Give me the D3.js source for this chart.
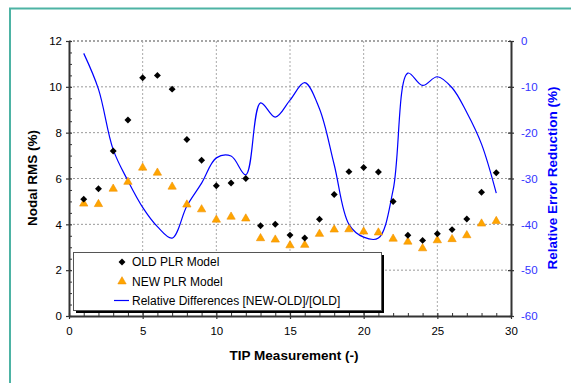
<!DOCTYPE html>
<html>
<head>
<meta charset="utf-8">
<script src="https://cdn.jsdelivr.net/npm/d3@7"></script>
<style>
  body { margin: 0; background: #fff; }
  svg { display: block; font-family: "Liberation Sans", Arial, sans-serif; }
</style>
</head>
<body>
<div class="chart"></div>
<script>
// TIP measurement index
const tips = [1, 2, 3, 4, 5, 6, 7, 8, 9, 10, 11, 12, 13, 14, 15, 16, 17, 18, 19, 20, 21, 22, 23, 24, 25, 26, 27, 28, 29];
// nodal RMS (%) of the old model
const oldPlr = [5.1, 5.55, 7.2, 8.55, 10.4, 10.5, 9.9, 7.7, 6.8, 5.68, 5.8, 6.0, 3.94, 4.0, 3.53, 3.4, 4.22, 5.3, 6.3, 6.48, 6.28, 5.0, 3.52, 3.3, 3.59, 3.77, 4.23, 5.4, 6.25];
// nodal RMS (%) of the new model
const newPlr = [4.9, 4.88, 5.55, 5.85, 6.47, 6.25, 5.64, 4.86, 4.65, 4.2, 4.33, 4.25, 3.39, 3.33, 3.08, 3.1, 3.58, 3.77, 3.78, 3.68, 3.64, 3.37, 3.24, 2.95, 3.3, 3.35, 3.52, 4.03, 4.14];
// relative difference [NEW-OLD]/[OLD] (%)
const relDiff = [-2.7, -10.5, -23.7, -30.5, -36.3, -40.5, -43.0, -36.0, -31.0, -25.5, -25.1, -29.2, -13.5, -16.6, -12.9, -9.1, -14.8, -27.0, -40.0, -42.8, -43.0, -32.5, -7.0, -9.7, -7.8, -10.2, -15.6, -22.5, -33.2];

const xTicks = [0, 5, 10, 15, 20, 25, 30];
const yTicks = [0, 2, 4, 6, 8, 10, 12];
const y2Ticks = [0, -10, -20, -30, -40, -50, -60];
const legendLabels = ['OLD PLR Model', 'NEW PLR Model', 'Relative Differences [NEW-OLD]/[OLD]'];

const W = 571, H = 383;
const margin = {left: 69, right: 60, top: 41, bottom: 67};
const iw = W - margin.left - margin.right;
const ih = H - margin.top - margin.bottom;

const axisColor = '#333';
const blue = '#0000ff';
const orange = '#ffa500';
const plain = d => String(d);   // keep ascii hyphen for negatives

const svg = d3.select('.chart').append('svg')
  .attr('width', W).attr('height', H);

svg.append('rect').attr('width', W).attr('height', H).attr('fill', '#fff');
// outer frame (runs off the bottom/right edge)
svg.append('rect')
  .attr('x', 10).attr('y', 8.5).attr('width', W + 20).attr('height', H + 20)
  .attr('fill', 'none').attr('stroke', '#4db3a4').attr('stroke-width', 2);

const g = svg.append('g').attr('transform', 'translate(' + margin.left + ',' + margin.top + ')');

const x = d3.scaleLinear().domain([0, 30]).range([0, iw]);
const y = d3.scaleLinear().domain([0, 12]).range([ih, 0]);
const y2 = d3.scaleLinear().domain([-60, 0]).range([ih, 0]);

// grid lines
g.append('g').selectAll('line').data(yTicks.filter(d => d > 0)).enter().append('line')
  .attr('x1', 0).attr('x2', iw).attr('y1', d => y(d)).attr('y2', d => y(d))
  .attr('stroke', d => d === 12 ? '#888' : '#999').attr('stroke-width', d => d === 12 ? 1.5 : 1)
  .attr('stroke-dasharray', '2,2');
g.append('g').selectAll('line').data(xTicks.filter(d => d > 0 && d < 30)).enter().append('line')
  .attr('y1', 0).attr('y2', ih).attr('x1', d => x(d)).attr('x2', d => x(d))
  .attr('stroke', '#aaa').attr('stroke-dasharray', '2,2');

// axes
function styleAxis(sel, color) {
  sel.select('.domain').attr('stroke', axisColor).attr('stroke-width', 2);
  sel.selectAll('.tick line').attr('stroke', axisColor).attr('stroke-width', 1.2);
  sel.selectAll('text').attr('fill', color).attr('font-size', 11.5);
}

const minorY = d3.range(0, 12.01, 0.5).filter(d => d % 2 !== 0);
const minorX = d3.range(0, 30.01, 1).filter(d => d % 5 !== 0);

// left axis: outward ticks with labels, inward half and minors
g.append('g').call(d3.axisRight(y).tickValues(minorY).tickSize(3).tickFormat(''))
  .call(s => { s.select('.domain').remove(); s.selectAll('line').attr('stroke', axisColor); });
g.append('g').call(d3.axisRight(y).tickValues(yTicks).tickSize(3).tickFormat(''))
  .call(s => { s.select('.domain').remove(); s.selectAll('line').attr('stroke', axisColor).attr('stroke-width', 1.2); });
g.append('g').call(d3.axisLeft(y).tickValues(yTicks).tickSize(3).tickSizeOuter(0).tickPadding(4).tickFormat(plain))
  .call(s => styleAxis(s, '#000'));

// bottom axis
g.append('g').attr('transform', 'translate(0,' + ih + ')')
  .call(d3.axisTop(x).tickValues(minorX).tickSize(3).tickFormat(''))
  .call(s => { s.select('.domain').remove(); s.selectAll('line').attr('stroke', axisColor); });
g.append('g').attr('transform', 'translate(0,' + ih + ')')
  .call(d3.axisTop(x).tickValues(xTicks).tickSize(3).tickFormat(''))
  .call(s => { s.select('.domain').remove(); s.selectAll('line').attr('stroke', axisColor).attr('stroke-width', 1.2); });
g.append('g').attr('transform', 'translate(0,' + ih + ')')
  .call(d3.axisBottom(x).tickValues(xTicks).tickSize(3).tickSizeOuter(0).tickPadding(8).tickFormat(plain))
  .call(s => styleAxis(s, '#000'));

// right axis
g.append('g').attr('transform', 'translate(' + iw + ',0)')
  .call(d3.axisLeft(y2).tickValues(y2Ticks).tickSize(3).tickFormat(''))
  .call(s => { s.select('.domain').remove(); s.selectAll('line').attr('stroke', axisColor).attr('stroke-width', 1.2); });
g.append('g').attr('transform', 'translate(' + iw + ',0)')
  .call(d3.axisRight(y2).tickValues(y2Ticks).tickSize(3).tickSizeOuter(0).tickPadding(7).tickFormat(plain))
  .call(s => styleAxis(s, '#3333ff'));

// relative difference line
const line = d3.line()
  .x((d, i) => x(tips[i]))
  .y(d => y2(d))
  .curve(d3.curveCatmullRom.alpha(0.5));
g.append('path').datum(relDiff)
  .attr('d', line).attr('fill', 'none').attr('stroke', blue).attr('stroke-width', 1.2);

// markers
const diamond = d3.symbol().type(d3.symbolSquare).size(24);
const triangle = d3.symbol().type(d3.symbolTriangle).size(30);

g.append('g').selectAll('path').data(newPlr).enter().append('path')
  .attr('d', triangle)
  .attr('transform', (d, i) => 'translate(' + x(tips[i]) + ',' + y(d) + ')')
  .attr('fill', orange).attr('stroke', '#f09000').attr('stroke-width', 0.6);

g.append('g').selectAll('path').data(oldPlr).enter().append('path')
  .attr('d', diamond)
  .attr('transform', (d, i) => 'translate(' + x(tips[i]) + ',' + y(d) + ') rotate(45)')
  .attr('fill', '#000');

// legend
const lg = svg.append('g').attr('transform', 'translate(73,252)');
lg.append('rect').attr('x', 3).attr('y', 3).attr('width', 308).attr('height', 58).attr('fill', '#000');
lg.append('rect').attr('x', 0.5).attr('y', 0.5).attr('width', 308).attr('height', 58)
  .attr('fill', '#fff').attr('stroke', '#555').attr('stroke-width', 1);

const rows = [10, 29.5, 48.5];
lg.append('path').attr('d', diamond)
  .attr('transform', 'translate(49,' + rows[0] + ') rotate(45)').attr('fill', '#000');
lg.append('path').attr('d', triangle)
  .attr('transform', 'translate(49,' + rows[1] + ')')
  .attr('fill', orange).attr('stroke', '#f09000').attr('stroke-width', 0.6);
lg.append('line').attr('x1', 41).attr('x2', 56).attr('y1', rows[2]).attr('y2', rows[2])
  .attr('stroke', blue).attr('stroke-width', 1.2);
lg.selectAll('text').data(legendLabels).enter().append('text')
  .attr('x', 59).attr('y', (d, i) => rows[i]).attr('dy', '0.35em')
  .attr('font-size', 12).attr('fill', '#000').text(d => d);

// axis titles
svg.append('text').attr('x', margin.left + iw / 2 + 4).attr('y', 360)
  .attr('text-anchor', 'middle').attr('font-size', 13.5).attr('font-weight', 'bold')
  .text('TIP Measurement (-)');
svg.append('text').attr('transform', 'translate(37,178) rotate(-90)')
  .attr('text-anchor', 'middle').attr('font-size', 13.5).attr('font-weight', 'bold')
  .text('Nodal RMS (%)');
svg.append('text').attr('transform', 'translate(557,178) rotate(-90)')
  .attr('text-anchor', 'middle').attr('font-size', 13.5).attr('font-weight', 'bold')
  .attr('fill', '#0000ff')
  .text('Relative Error Reduction (%)');
</script>
</body>
</html>
